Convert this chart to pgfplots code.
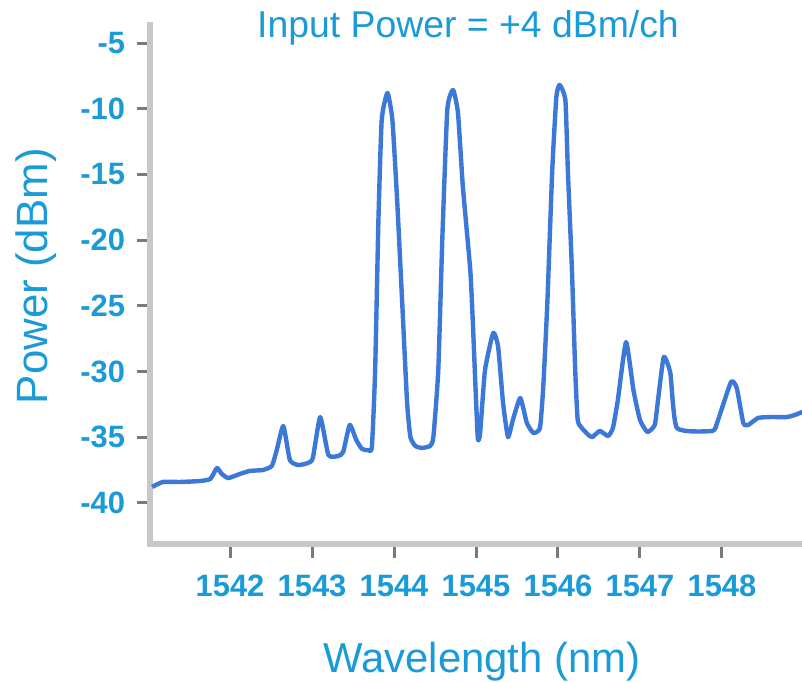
\documentclass[border=0pt]{standalone}
\usepackage{fontspec}
\setmainfont{Liberation Sans}
\usepackage{pgfplots}
\pgfplotsset{compat=1.18}

\definecolor{tracecol}{HTML}{3B78D8}
\definecolor{textcol}{HTML}{1A9AD6}
\definecolor{axiscol}{HTML}{C8C8C8}
\definecolor{tickcol}{HTML}{7A7A7A}

\pgfplotstableread{
wl     p
1541.05 -38.78
1541.18 -38.40
1541.39 -38.40
1541.63 -38.33
1541.76 -38.17
1541.84 -37.34
1541.90 -37.79
1541.98 -38.10
1542.12 -37.79
1542.24 -37.56
1542.40 -37.49
1542.51 -37.18
1542.57 -35.97
1542.65 -34.14
1542.73 -36.73
1542.83 -37.11
1542.95 -36.96
1543.01 -36.58
1543.10 -33.46
1543.20 -36.35
1543.32 -36.42
1543.38 -36.12
1543.46 -34.06
1543.54 -35.21
1543.61 -35.89
1543.68 -35.97
1543.73 -35.74
1543.77 -29.88
1543.81 -18.46
1543.85 -10.85
1543.92 -8.80
1543.98 -10.85
1544.04 -17.17
1544.10 -24.78
1544.16 -32.39
1544.20 -34.98
1544.26 -35.66
1544.34 -35.81
1544.44 -35.66
1544.48 -34.98
1544.54 -29.88
1544.59 -19.76
1544.65 -10.09
1544.72 -8.57
1544.78 -10.32
1544.84 -15.95
1544.93 -22.27
1544.96 -26.07
1545.02 -34.90
1545.05 -34.67
1545.11 -29.88
1545.21 -27.06
1545.27 -28.13
1545.33 -32.39
1545.39 -34.98
1545.45 -33.68
1545.54 -32.01
1545.62 -33.91
1545.70 -34.67
1545.78 -34.29
1545.82 -31.17
1545.87 -24.78
1545.93 -14.66
1545.98 -9.10
1546.02 -8.19
1546.09 -9.33
1546.12 -14.66
1546.17 -22.27
1546.21 -29.88
1546.24 -33.68
1546.29 -34.29
1546.37 -34.82
1546.42 -34.98
1546.51 -34.52
1546.61 -34.90
1546.67 -34.29
1546.73 -32.16
1546.83 -27.75
1546.92 -31.40
1547.00 -33.68
1547.09 -34.60
1547.18 -34.06
1547.22 -32.16
1547.29 -28.89
1547.37 -30.11
1547.45 -34.29
1547.88 -34.52
1547.94 -33.91
1548.11 -30.79
1548.18 -31.25
1548.26 -33.91
1548.32 -34.06
1548.44 -33.53
1548.59 -33.46
1548.79 -33.46
1548.89 -33.30
1548.98 -33.07
}\spectrum

\begin{document}
\begin{tikzpicture}
\begin{axis}[
  name=ax,
  clip=false,
  scale only axis,
  width=652bp, height=519bp,
  xmin=1541.024, xmax=1548.976,
  ymin=-43.12, ymax=-3.63,
  axis lines=left,
  axis line style={draw=axiscol, line width=6.5bp, -, line cap=rect},
  tick align=outside,
  major tick length=13.5bp,
  tick style={draw=tickcol, line width=3bp},
  xtick={1542,1543,1544,1545,1546,1547,1548},
  xticklabels={1542,1543,1544,1545,1546,1547,1548},
  ytick={-40,-35,-30,-25,-20,-15,-10,-5},
  yticklabels={-40,-35,-30,-25,-20,-15,-10,-5},
  ticklabel style={font=\fontsize{31}{31}\selectfont\bfseries, text=textcol},
  xticklabel style={yshift=-14bp},
  yticklabel style={xshift=-8bp},
]
\addplot[color=tracecol, line width=4.4bp, smooth, tension=0.3, line join=round]
  table[x=wl, y=p] {\spectrum};

\node[anchor=base, text=textcol, font=\fontsize{37.5}{37.5}\selectfont]
  at ([shift={(0bp,-13bp)}]rel axis cs:0.4877,1) {Input Power = +4 dBm/ch};
\node[anchor=base, text=textcol, font=\fontsize{42}{42}\selectfont]
  at ([shift={(0bp,-128bp)}]rel axis cs:0.509,0) {Wavelength (nm)};
\node[anchor=base, rotate=90, text=textcol, font=\fontsize{44}{44}\selectfont]
  at ([shift={(-102bp,0bp)}]rel axis cs:0,0.516) {Power (dBm)};
\end{axis}
\pgfresetboundingbox
\path[use as bounding box] ([shift={(-150bp,-138bp)}]ax.south west)
  rectangle ([shift={(0bp,25bp)}]ax.north east);
\end{tikzpicture}
\end{document}
